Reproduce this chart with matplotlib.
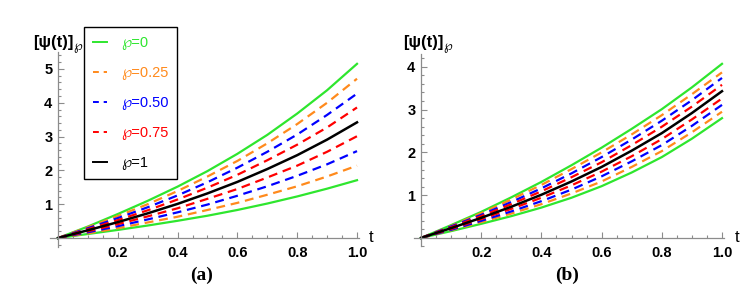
import numpy as np
import matplotlib
matplotlib.use("Agg")
import matplotlib.pyplot as plt
from matplotlib.ticker import MultipleLocator, FixedLocator

plt.rcParams['font.family'] = ['Liberation Sans', 'DejaVu Sans']

# data (t = 0, 0.1, ..., 1.0)
t = [0.0, 0.1, 0.2, 0.3, 0.4, 0.5, 0.6, 0.7, 0.8, 0.9, 1.0]

# panel (a)
a_green_up = [0, 0.34, 0.71, 1.10, 1.52, 1.98, 2.49, 3.05, 3.68, 4.37, 5.15]
a_orange_up = [0, 0.32, 0.65, 1.00, 1.39, 1.82, 2.28, 2.80, 3.37, 4.00, 4.71]
a_blue_up = [0, 0.29, 0.59, 0.91, 1.26, 1.65, 2.08, 2.55, 3.06, 3.64, 4.27]
a_red_up = [0, 0.26, 0.53, 0.82, 1.14, 1.49, 1.87, 2.30, 2.76, 3.27, 3.86]
a_black = [0, 0.23, 0.47, 0.73, 1.01, 1.32, 1.66, 2.04, 2.45, 2.91, 3.42]
a_red_lo = [0, 0.20, 0.41, 0.64, 0.88, 1.16, 1.45, 1.79, 2.14, 2.55, 3.01]
a_blue_lo = [0, 0.17, 0.35, 0.55, 0.76, 0.99, 1.25, 1.53, 1.84, 2.18, 2.57]
a_orange_lo = [0, 0.14, 0.29, 0.46, 0.63, 0.83, 1.04, 1.28, 1.53, 1.82, 2.14]
a_green_lo = [0, 0.12, 0.24, 0.37, 0.51, 0.66, 0.83, 1.02, 1.23, 1.46, 1.71]

# panel (b)
b_green_up = [0, 0.30, 0.61, 0.95, 1.31, 1.70, 2.11, 2.55, 3.01, 3.52, 4.07]
b_orange_up = [0, 0.28, 0.58, 0.90, 1.24, 1.61, 2.00, 2.42, 2.87, 3.36, 3.87]
b_blue_up = [0, 0.27, 0.54, 0.84, 1.16, 1.51, 1.89, 2.30, 2.74, 3.22, 3.74]
b_red_up = [0, 0.25, 0.51, 0.79, 1.09, 1.42, 1.77, 2.17, 2.60, 3.07, 3.58]
b_black = [0, 0.23, 0.47, 0.73, 1.01, 1.32, 1.66, 2.04, 2.45, 2.92, 3.43]
b_red_lo = [0, 0.21, 0.44, 0.68, 0.94, 1.23, 1.55, 1.91, 2.31, 2.77, 3.26]
b_blue_lo = [0, 0.19, 0.40, 0.62, 0.86, 1.13, 1.44, 1.79, 2.17, 2.62, 3.11]
b_orange_lo = [0, 0.18, 0.37, 0.57, 0.79, 1.04, 1.32, 1.66, 2.03, 2.47, 2.95]
b_green_lo = [0, 0.16, 0.33, 0.51, 0.71, 0.94, 1.21, 1.53, 1.89, 2.32, 2.80]

legend_labels = ["℘=0", "℘=0.25", "℘=0.50", "℘=0.75", "℘=1"]
x_ticks = [0.2, 0.4, 0.6, 0.8, 1.0]
a_y_ticks = [1, 2, 3, 4, 5]
b_y_ticks = [1, 2, 3, 4]

GREEN = "#2ee62e"
ORANGE = "#ff8a1c"
BLUE = "#0000ff"
RED = "#ff0000"
BLACK = "#000000"
colors = [GREEN, ORANGE, BLUE, RED, BLACK]
DASH = (0, (4, 2.6))

W, H = 750, 289
fig = plt.figure(figsize=(W / 100, H / 100), dpi=100)


def px_axes(x0, y0, x1, y1):
    # pixel box (top-left origin) -> figure axes
    return fig.add_axes([x0 / W, 1 - y1 / H, (x1 - x0) / W, (y1 - y0) / H])


def style_axes(ax, ylim, yticks):
    ax.set_xlim(-0.025, 1.005)
    ax.set_ylim(*ylim)
    for s in ["top", "right"]:
        ax.spines[s].set_visible(False)
    ax.spines["left"].set_position(("data", 0))
    ax.spines["bottom"].set_position(("data", 0))
    for s in ["left", "bottom"]:
        ax.spines[s].set_color("#8c8c8c")
        ax.spines[s].set_linewidth(0.9)
    ax.xaxis.set_major_locator(FixedLocator(x_ticks))
    ax.xaxis.set_minor_locator(MultipleLocator(0.05))
    ax.yaxis.set_major_locator(FixedLocator(yticks))
    ax.yaxis.set_minor_locator(MultipleLocator(0.2))
    ax.tick_params(which="both", direction="in", color="#8c8c8c", width=0.8)
    ax.tick_params(which="major", length=4)
    ax.tick_params(which="minor", length=2)
    ax.tick_params(axis="x", which="major", pad=6)
    ax.tick_params(axis="y", which="major", pad=4)
    ax.set_xticklabels(["%.1f" % v for v in x_ticks], fontsize=10.5, fontweight="bold")
    ax.set_yticklabels([str(v) for v in yticks], fontsize=10.5, fontweight="bold")


def draw(ax, g_up, o_up, b_up, r_up, blk, r_lo, b_lo, o_lo, g_lo):
    lw = 1.6
    ax.plot(t, g_up, color=GREEN, lw=lw)
    ax.plot(t, g_lo, color=GREEN, lw=lw)
    ax.plot(t, o_up, color=ORANGE, lw=lw, ls=DASH)
    ax.plot(t, o_lo, color=ORANGE, lw=lw, ls=DASH)
    ax.plot(t, b_up, color=BLUE, lw=lw, ls=DASH)
    ax.plot(t, b_lo, color=BLUE, lw=lw, ls=DASH)
    ax.plot(t, r_up, color=RED, lw=lw, ls=DASH)
    ax.plot(t, r_lo, color=RED, lw=lw, ls=DASH)
    ax.plot(t, blk, color=BLACK, lw=1.8)


# (a)
ax1 = px_axes(50.5, 52, 358.5, 246.5)
style_axes(ax1, (-0.25, 5.5), a_y_ticks)
draw(ax1, a_green_up, a_orange_up, a_blue_up, a_red_up, a_black,
     a_red_lo, a_blue_lo, a_orange_lo, a_green_lo)

# (b)
ax2 = px_axes(413.5, 54, 723.5, 246.5)
style_axes(ax2, (-0.2, 4.3), b_y_ticks)
draw(ax2, b_green_up, b_orange_up, b_blue_up, b_red_up, b_black,
     b_red_lo, b_blue_lo, b_orange_lo, b_green_lo)


def ftext(x, y, s, **kw):
    fig.text(x / W, 1 - y / H, s, **kw)


# axis titles
for x0 in (33, 403):
    ftext(x0, 42, "[\u03c8(t)]", fontsize=12, fontweight="bold", va="center", ha="left")
    ftext(x0 + 40, 47, "\u2118", fontsize=9, va="center", ha="left",
          family=["DejaVu Sans"])
ftext(369, 237, "t", fontsize=12, va="center", ha="left")
ftext(735, 237, "t", fontsize=12, va="center", ha="left")

# panel labels
ftext(202, 275, "(a)", fontsize=14, fontweight="bold", family="Liberation Serif",
      ha="center", va="center")
ftext(567, 275, "(b)", fontsize=14, fontweight="bold", family="Liberation Serif",
      ha="center", va="center")

# legend
handles = [
    plt.Line2D([], [], color=GREEN, lw=1.4),
    plt.Line2D([], [], color=ORANGE, lw=1.4, ls=(0, (3, 2.5))),
    plt.Line2D([], [], color=BLUE, lw=1.4, ls=(0, (3, 2.5))),
    plt.Line2D([], [], color=RED, lw=1.4, ls=(0, (3, 2.5))),
    plt.Line2D([], [], color=BLACK, lw=1.4),
]
leg = fig.legend(handles, legend_labels, loc="upper left",
                 bbox_to_anchor=(84 / W, 1 - 27 / H), fontsize=10.5,
                 handlelength=1.0, handletextpad=0.95, labelspacing=1.1,
                 borderpad=0.6, borderaxespad=0, fancybox=False,
                 framealpha=1, edgecolor="black")
leg.get_frame().set_linewidth(1.0)
for txt, c in zip(leg.get_texts(), colors):
    txt.set_color(c)

fig.savefig("out.png", dpi=100)
